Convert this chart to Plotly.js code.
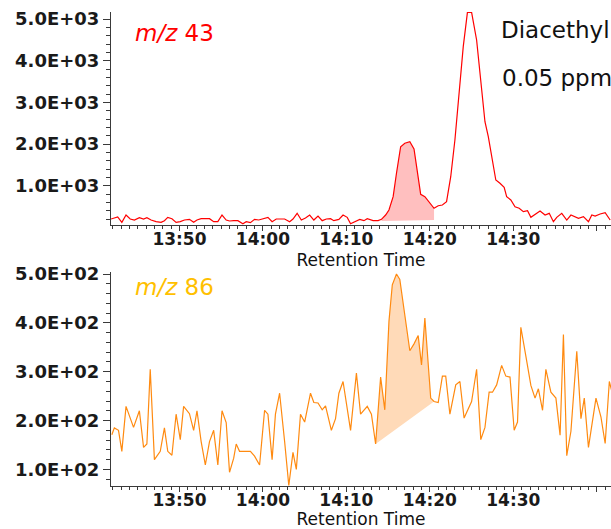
<!DOCTYPE html>
<html>
<head>
<meta charset="utf-8">
<script src="https://cdn.plot.ly/plotly-3.0.1.min.js"></script>
<style>html,body{margin:0;padding:0;background:#fff;}#chart{width:611px;height:529px;}</style>
</head>
<body>
<div id="chart"></div>
<script>
// Retention time in seconds (13:50 = 830 s)
const rt43 = [821.8,822.2,822.6,823.1,823.6,824.1,824.6,825.2,825.7,826.1,826.6,827.2,827.8,828.2,828.6,829.1,829.6,830.1,830.6,831.2,831.7,832.1,832.6,833.6,834.1,834.6,835.1,835.6,836.0,836.5,837.0,837.6,838.0,838.5,839.0,839.5,840.0,840.6,841.1,841.6,842.6,843.2,843.6,844.1,844.6,845.1,845.6,846.1,846.6,847.1,847.6,848.1,848.5,849.1,849.6,850.1,850.5,851.1,851.6,852.1,852.5,853.2,853.8,854.2,854.7,855.1,855.6,856.0,856.5,857.0,857.6,858.1,858.5,858.9,859.4,859.9,860.5,861.0,861.5,862.0,862.5,863.0,863.5,864.0,864.5,865.0,865.6,866.1,866.6,867.0,867.5,867.9,868.4,868.9,869.2,869.7,870.2,870.7,871.2,871.7,872.1,872.6,873.2,873.8,874.3,874.8,875.2,875.8,876.4,876.9,877.4,877.8,878.4,879.0,879.4,879.8,880.4,881.0,881.6];
const m43 = [201,233,250,121,297,201,177,233,201,233,177,137,121,161,241,209,121,137,177,193,121,177,209,209,137,137,297,177,153,161,161,89,137,113,193,177,209,241,137,201,201,137,201,338,177,225,297,177,273,161,201,209,161,193,297,241,89,153,193,161,209,161,161,193,297,417,737,1298,1936,2018,2056,1881,1377,794,737,616,458,520,537,616,1216,2097,3297,4336,5160,5160,4497,3537,2536,2176,1538,1137,1058,962,737,657,496,458,377,401,242,314,393,297,337,137,242,337,177,297,257,217,257,137,297,273,321,352,177];

const rt86 = [821.9,822.2,822.7,823.1,823.6,824.1,824.5,825.2,825.7,826.1,826.5,827.0,827.7,828.2,828.6,829.1,829.6,830.1,830.5,831.2,831.7,832.1,832.6,833.1,833.6,834.1,834.6,835.1,835.6,836.0,836.5,836.8,837.2,838.5,839.0,839.6,840.2,840.6,841.1,841.5,842.0,842.6,843.1,843.6,844.0,844.5,845.0,845.7,846.1,846.6,847.1,847.5,848.2,848.7,849.1,849.6,850.1,850.5,851.2,851.7,852.5,853.0,853.5,854.1,854.6,855.1,855.5,856.0,856.4,857.0,857.6,858.1,858.6,859.0,859.4,860.1,860.5,861.0,861.5,861.9,862.4,863.1,863.6,864.1,865.0,865.6,866.1,866.6,867.1,867.5,868.0,868.6,869.1,869.6,870.1,870.5,870.9,871.5,872.1,872.6,873.0,873.5,873.9,874.5,875.1,875.6,876.0,876.4,876.9,877.6,878.1,878.5,879.0,879.9,880.5,881.0,881.5,881.8];
const m86 = [171,185,180,137,229,205,186,220,145,152,305,120,137,185,137,129,213,161,229,214,180,220,157,109,157,180,109,220,196,94,123,152,137,137,127,109,221,213,120,213,256,157,67,135,100,213,197,256,237,236,222,230,180,204,256,280,222,180,297,213,229,213,152,289,222,403,478,500,489,420,343,357,374,314,410,246,239,237,291,291,213,273,280,205,239,305,161,186,258,258,273,313,291,289,180,197,391,332,272,246,265,221,305,258,246,170,376,128,178,342,204,246,145,246,207,153,280,260];

// Integrated peak windows (start / end retention time and baseline values)
const peak43 = [854.2, 860.5];
const base43 = [153, 177];
const peak86 = [853.5, 860.5];
const base86 = [152, 239];

const xTickVals = [830, 840, 850, 860, 870, 880];
const xTickText = ['13:50', '14:00', '14:10', '14:20', '14:30', ''];
const y1TickVals = [1000, 2000, 3000, 4000, 5000];
const y1TickText = ['1.0E+03', '2.0E+03', '3.0E+03', '4.0E+03', '5.0E+03'];
const y2TickVals = [100, 200, 300, 400, 500];
const y2TickText = ['1.0E+02', '2.0E+02', '3.0E+02', '4.0E+02', '5.0E+02'];

function slice(rt, v, win) {
  const xs = [], ys = [];
  rt.forEach((t, i) => { if (t >= win[0] - 1e-6 && t <= win[1] + 1e-6) { xs.push(t); ys.push(v[i]); } });
  return [xs, ys];
}
const [fx43, fy43] = slice(rt43, m43, peak43);
const [fx86, fy86] = slice(rt86, m86, peak86);

const AX = '#3a3a3a';
const tickFontY = {family: 'DejaVu Sans', size: 18, color: '#1a1a1a', weight: 700};
const tickFontX = {family: 'DejaVu Sans', size: 17, color: '#1a1a1a', weight: 700};

const traces = [
  {x: peak43, y: base43, xaxis: 'x', yaxis: 'y', mode: 'lines', line: {width: 0, color: 'rgba(0,0,0,0)'}, hoverinfo: 'skip'},
  {x: fx43, y: fy43, xaxis: 'x', yaxis: 'y', mode: 'lines', fill: 'tonexty', fillcolor: '#FFBFBF', line: {width: 0, color: 'rgba(0,0,0,0)'}},
  {x: rt43, y: m43, xaxis: 'x', yaxis: 'y', mode: 'lines', line: {color: '#FF0000', width: 1.2}},
  {x: peak86, y: base86, xaxis: 'x2', yaxis: 'y2', mode: 'lines', line: {width: 0, color: 'rgba(0,0,0,0)'}, hoverinfo: 'skip'},
  {x: fx86, y: fy86, xaxis: 'x2', yaxis: 'y2', mode: 'lines', fill: 'tonexty', fillcolor: '#FFDAB8', line: {width: 0, color: 'rgba(0,0,0,0)'}},
  {x: rt86, y: m86, xaxis: 'x2', yaxis: 'y2', mode: 'lines', line: {color: '#FF8A10', width: 1.2}}
];

function xAxis(anchor) {
  return {
    anchor: anchor, domain: [0, 1], range: [821.8, 881.7],
    showline: true, linecolor: AX, linewidth: 1, zeroline: false, showgrid: false,
    ticks: 'outside', ticklen: 5, tickcolor: AX, tickwidth: 1,
    tickmode: 'array', tickvals: xTickVals, ticktext: xTickText, tickfont: tickFontX,
    ticklabelstandoff: -6,
    minor: {tickmode: 'linear', tick0: 830, dtick: 1, ticks: 'outside', ticklen: 3, tickcolor: AX, showgrid: false},
    title: {text: 'Retention Time', font: {family: 'DejaVu Sans', size: 17, color: '#111'}, standoff: 5}
  };
}
function yAxis(anchor, dom, rng, tv, tt, minorStep) {
  return {
    anchor: anchor, domain: dom, range: rng,
    showline: true, linecolor: AX, linewidth: 1, zeroline: false, showgrid: false,
    ticks: 'outside', ticklen: 7, tickcolor: AX, tickwidth: 1,
    tickmode: 'array', tickvals: tv, ticktext: tt, tickfont: tickFontY,
    minor: {tickmode: 'linear', tick0: 0, dtick: minorStep, ticks: 'outside', ticklen: 4, tickcolor: AX, showgrid: false}
  };
}

const layout = {
  width: 611, height: 529,
  margin: {l: 111, r: 0, t: 12, b: 43, pad: 0},
  paper_bgcolor: '#fff', plot_bgcolor: '#fff',
  showlegend: false,
  xaxis: xAxis('y'),
  yaxis: yAxis('x', [0.5506, 1], [57, 5168], y1TickVals, y1TickText, 200),
  xaxis2: xAxis('y2'),
  yaxis2: yAxis('x2', [0, 0.4508], [66, 503.5], y2TickVals, y2TickText, 20),
  annotations: [
    {xref: 'paper', yref: 'paper', x: 0.044, y: 0.9557, xanchor: 'left', yanchor: 'middle', showarrow: false,
     text: '<i>m/z</i> 43', font: {family: 'DejaVu Sans', size: 23, color: '#FF0000'}},
    {xref: 'paper', yref: 'paper', x: 0.776, y: 0.962, xanchor: 'left', yanchor: 'middle', showarrow: false,
     text: 'Diacethyl', font: {family: 'DejaVu Sans', size: 23, color: '#111'}},
    {xref: 'paper', yref: 'paper', x: 0.778, y: 0.861, xanchor: 'left', yanchor: 'middle', showarrow: false,
     text: '0.05 ppm', font: {family: 'DejaVu Sans', size: 23, color: '#111'}},
    {xref: 'paper', yref: 'paper', x: 0.044, y: 0.42, xanchor: 'left', yanchor: 'middle', showarrow: false,
     text: '<i>m/z</i> 86', font: {family: 'DejaVu Sans', size: 23, color: '#FFC000'}}
  ]
};

Plotly.newPlot('chart', traces, layout, {displayModeBar: false, staticPlot: true});
</script>
</body>
</html>
